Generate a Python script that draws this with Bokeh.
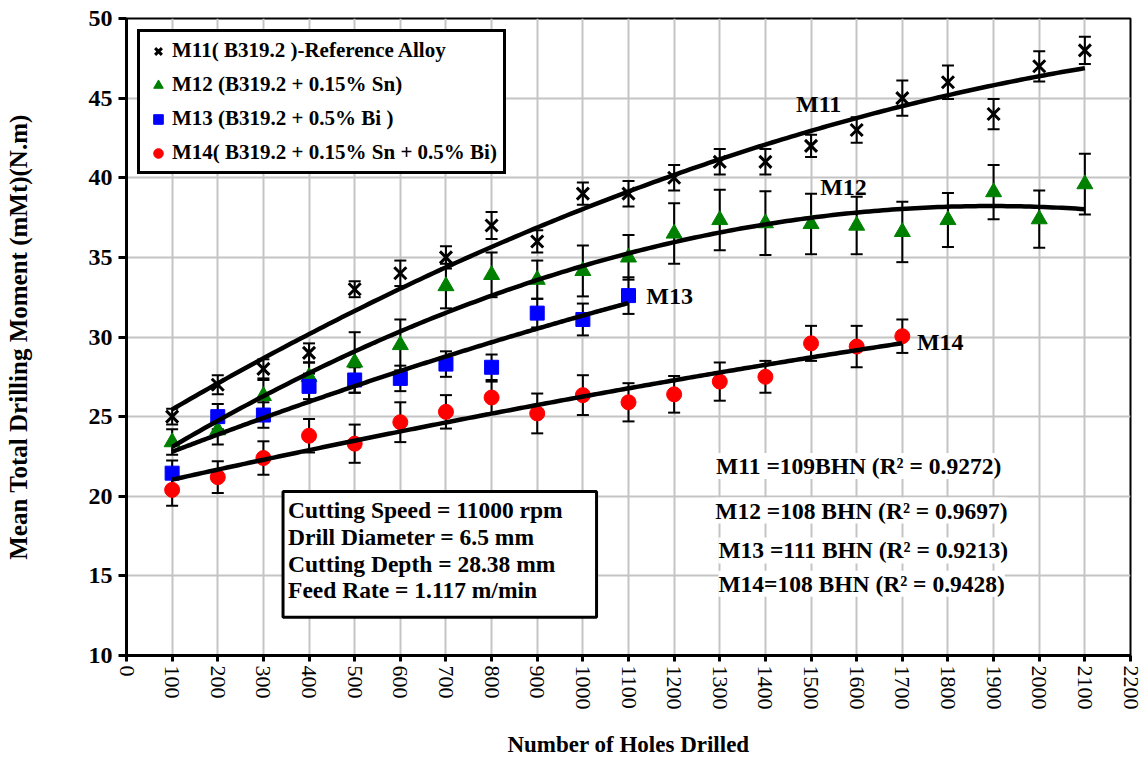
import math
import numpy as np
from bokeh.plotting import figure
from bokeh.models import SingleIntervalTicker, Label, Range1d, BoxAnnotation
from bokeh.embed import file_html
from bokeh.resources import INLINE

# ---------------- data ----------------
holes = [100, 200, 300, 400, 500, 600, 700, 800, 900, 1000, 1100,
         1200, 1300, 1400, 1500, 1600, 1700, 1800, 1900, 2000, 2100]

m11 = [25.0, 27.0, 28.0, 29.0, 33.0, 34.0, 35.0, 37.0, 36.0, 39.0, 39.0,
       40.0, 41.0, 41.0, 42.0, 43.0, 45.0, 46.0, 44.0, 47.0, 48.0]
m11_err = [0.5, 0.6, 0.6, 0.6, 0.5, 0.8, 0.7, 0.85, 0.7, 0.7, 0.8,
           0.8, 0.8, 0.8, 0.7, 0.8, 1.1, 1.05, 0.95, 0.95, 0.85]

m12 = [23.4, 24.15, 26.3, 27.5, 28.4, 29.5, 33.2, 33.9, 33.6, 34.15, 35.0,
       36.5, 37.35, 37.15, 37.1, 37.0, 36.6, 37.35, 39.1, 37.4, 39.6]
m12_err = [0.8, 0.9, 1.0, 0.9, 1.9, 1.6, 1.4, 1.4, 1.2, 1.6, 1.4,
           1.9, 1.9, 2.0, 1.9, 1.8, 1.9, 1.7, 1.7, 1.8, 1.9]

holes13 = [100, 200, 300, 400, 500, 600, 700, 800, 900, 1000, 1100]
m13 = [21.45, 25.0, 25.1, 26.9, 27.3, 27.4, 28.3, 28.1, 31.5, 31.1, 32.6]
m13_err = [0.8, 0.8, 0.8, 0.8, 0.8, 0.8, 0.8, 0.8, 0.9, 1.0, 1.15]

holes14 = [100, 200, 300, 400, 500, 600, 700, 800, 900, 1000, 1100,
           1200, 1300, 1400, 1500, 1600, 1700]
m14 = [20.4, 21.2, 22.4, 23.8, 23.3, 24.65, 25.3, 26.2, 25.2, 26.35, 25.9,
       26.4, 27.2, 27.5, 29.6, 29.4, 30.05]
m14_err = [1.0, 1.0, 1.05, 1.05, 1.2, 1.25, 1.05, 1.0, 1.25, 1.25, 1.2,
           1.15, 1.2, 1.0, 1.1, 1.3, 1.05]

legend_labels = ["M11( B319.2 )-Reference Alloy",
                 "M12 (B319.2 + 0.15% Sn)",
                 "M13 (B319.2 + 0.5% Bi )",
                 "M14( B319.2 + 0.15% Sn + 0.5% Bi)"]

cond_lines = ["Cutting Speed = 11000 rpm",
              "Drill Diameter = 6.5 mm",
              "Cutting Depth = 28.38 mm",
              "Feed Rate = 1.117 m/min"]

hard_lines = ["M11 =109BHN (R\u00b2 = 0.9272)",
              "M12 =108 BHN (R\u00b2 = 0.9697)",
              "M13 =111 BHN (R\u00b2 =  0.9213)",
              "M14=108 BHN (R\u00b2 = 0.9428)"]

FONT = "Liberation Serif"

# ---------------- figure ----------------
p = figure(width=1143, height=772, x_range=Range1d(0, 2200), y_range=Range1d(10, 50),
           output_backend="svg", toolbar_location=None,
           min_border_left=126, min_border_top=18, min_border_right=13, min_border_bottom=117)

p.background_fill_color = "white"
p.border_fill_color = "white"
p.outline_line_color = "black"
p.outline_line_width = 2
p.outline_line_alpha = 1.0

p.xaxis.ticker = SingleIntervalTicker(interval=100)
p.yaxis.ticker = SingleIntervalTicker(interval=5)
p.xgrid.ticker = SingleIntervalTicker(interval=100)
p.ygrid.ticker = SingleIntervalTicker(interval=5)
for g in (p.xgrid, p.ygrid):
    g.grid_line_color = "#c4c4c4"
    g.grid_line_width = 2

for ax in (p.xaxis, p.yaxis):
    ax.axis_line_color = "black"
    ax.axis_line_width = 3
    ax.major_tick_line_color = "black"
    ax.major_tick_line_width = 3
    ax.major_tick_in = 0
    ax.minor_tick_line_color = None
    ax.major_label_text_font = FONT
    ax.major_label_text_color = "black"
    ax.axis_label_text_font = FONT
    ax.axis_label_text_font_style = "bold"
    ax.axis_label_text_color = "black"

p.xaxis.axis_label_text_font_size = "23px"
p.yaxis.axis_label_text_font_size = "25px"
p.xaxis.major_tick_out = 6
p.yaxis.major_tick_out = 8
p.xaxis.major_label_orientation = -math.pi / 2
p.xaxis.major_label_text_font_size = "22px"
p.xaxis.major_label_text_font_style = "normal"
p.yaxis.major_label_text_font_size = "24px"
p.yaxis.major_label_text_font_style = "bold"
p.xaxis.major_label_standoff = 4
p.yaxis.major_label_standoff = 6
p.xaxis.axis_label = "Number of Holes Drilled"
p.yaxis.axis_label = "Mean Total Drilling Moment (mMt)(N.m)"
p.xaxis.axis_label_standoff = 19
p.yaxis.axis_label_standoff = 54

# ---------------- error bars ----------------
def errbars(xs, ys, es):
    lo = [y - e for y, e in zip(ys, es)]
    hi = [y + e for y, e in zip(ys, es)]
    p.segment(x0=xs, y0=lo, x1=xs, y1=hi, line_color="black", line_width=2)
    p.scatter(x=list(xs) + list(xs), y=lo + hi, marker="dash", size=12,
              line_color="black", line_width=2)

errbars(holes, m11, m11_err)
errbars(holes, m12, m12_err)
errbars(holes13, m13, m13_err)
errbars(holes14, m14, m14_err)

# ---------------- markers ----------------
p.scatter(holes, m11, marker="x", size=17, line_color="black", line_width=3,
          legend_label=legend_labels[0])
p.scatter(holes, m12, marker="triangle", size=16, fill_color="#008000", line_color="#008000",
          legend_label=legend_labels[1])
p.scatter(holes13, m13, marker="square", size=14, fill_color="#0000ff", line_color="#0000ff",
          legend_label=legend_labels[2])
p.scatter(holes14, m14, marker="circle", size=15, fill_color="#ff0000", line_color="#ff0000",
          legend_label=legend_labels[3])

# ---------------- polynomial trendlines ----------------
def trend(xs, ys):
    c = np.polyfit(xs, ys, 2)
    xx = np.linspace(xs[0], xs[-1], 200)
    p.line(xx, np.polyval(c, xx), line_color="black", line_width=4.5)

trend(holes, m11)
trend(holes, m12)
trend(holes13, m13)
trend(holes14, m14)

# ---------------- series labels ----------------
for txt, x, y in [("M11", 1467, 44.6), ("M12", 1520, 39.4), ("M13", 1139, 32.6), ("M14", 1732, 29.7)]:
    p.add_layout(Label(x=x, y=y, text=txt, text_font=FONT, text_font_style="bold",
                       text_font_size="24px", text_baseline="middle", text_color="black"))

# ---------------- conditions box ----------------
p.add_layout(BoxAnnotation(left=343, right=1030, bottom=12.4, top=20.3,
                           fill_color="white", fill_alpha=1.0,
                           line_color="black", line_alpha=1.0, line_width=3))
for txt, y in zip(cond_lines, [19.12, 17.42, 15.72, 14.09]):
    p.add_layout(Label(x=354, y=y, text=txt, text_font=FONT, text_font_style="bold",
                       text_font_size="23.5px", text_baseline="middle", text_color="black"))

# ---------------- hardness / R2 texts ----------------
for txt, x, y in zip(hard_lines, [1292, 1290, 1297, 1297], [21.9, 19.1, 16.6, 14.5]):
    p.add_layout(Label(x=x, y=y, text=txt, text_font=FONT, text_font_style="bold",
                       text_font_size="23.5px", text_baseline="middle", text_color="black",
                       background_fill_color="white", background_fill_alpha=1.0))

# ---------------- legend ----------------
lg = p.legend[0]
lg.location = "top_left"
lg.margin = 11
lg.padding = 6
lg.spacing = 9
lg.glyph_width = 24
lg.glyph_height = 24
lg.label_height = 24
lg.label_standoff = 2
lg.label_text_font = FONT
lg.label_text_font_style = "bold"
lg.label_text_font_size = "21px"
lg.label_text_color = "black"
lg.border_line_color = "black"
lg.border_line_alpha = 1.0
lg.border_line_width = 3
lg.background_fill_color = "white"
lg.background_fill_alpha = 1.0

open("out.html", "w").write(file_html(p, INLINE))
